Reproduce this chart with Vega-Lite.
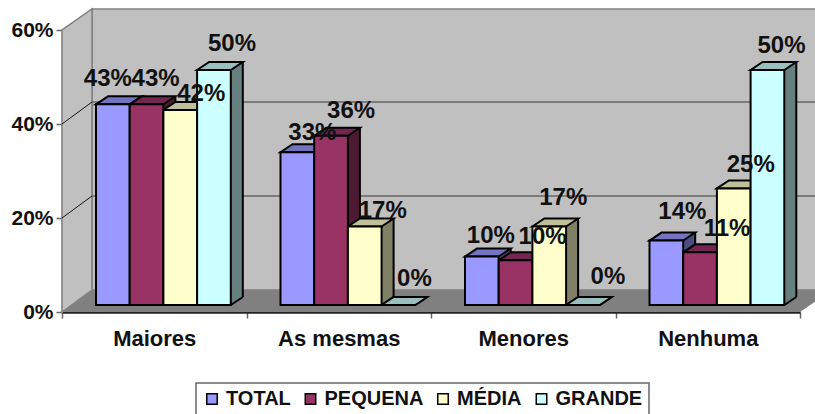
{"$schema":"https://vega.github.io/schema/vega-lite/v6.json","width":753,"height":303,"padding":{"left":62,"top":9,"right":0,"bottom":102},"autosize":"none","background":"white","config":{"view":{"stroke":null},"font":"Liberation Sans","legend":{"strokeWidth":1.5}},"data":{"values":[{"cat":"Maiores","s":"TOTAL","v":42.7,"label":"43%"},{"cat":"Maiores","s":"PEQUENA","v":42.7,"label":"43%"},{"cat":"Maiores","s":"MÉDIA","v":41.5,"label":"42%"},{"cat":"Maiores","s":"GRANDE","v":50,"label":"50%"},{"cat":"As mesmas","s":"TOTAL","v":32.5,"label":"33%"},{"cat":"As mesmas","s":"PEQUENA","v":36,"label":"36%"},{"cat":"As mesmas","s":"MÉDIA","v":16.7,"label":"17%"},{"cat":"As mesmas","s":"GRANDE","v":0,"label":"0%"},{"cat":"Menores","s":"TOTAL","v":10.3,"label":"10%"},{"cat":"Menores","s":"PEQUENA","v":9.5,"label":"10%"},{"cat":"Menores","s":"MÉDIA","v":16.7,"label":"17%"},{"cat":"Menores","s":"GRANDE","v":0,"label":"0%"},{"cat":"Nenhuma","s":"TOTAL","v":13.7,"label":"14%"},{"cat":"Nenhuma","s":"PEQUENA","v":11.2,"label":"11%"},{"cat":"Nenhuma","s":"MÉDIA","v":24.8,"label":"25%"},{"cat":"Nenhuma","s":"GRANDE","v":50,"label":"50%"}]},"encoding":{"x":{"field":"cat","type":"nominal","sort":null,"title":null,"scale":{"domain":["Maiores","As mesmas","Menores","Nenhuma"],"range":[0,738],"paddingInner":0,"paddingOuter":0}},"xOffset":{"field":"s","type":"nominal","sort":null,"scale":{"type":"point","domain":["TOTAL","PEQUENA","MÉDIA","GRANDE"],"range":[50.85,151.95],"padding":0}},"y":{"field":"v","type":"quantitative","title":null,"scale":{"domain":[0,60],"range":[303,21],"nice":false,"zero":true}}},"layer":[{"data":{"values":[{"v":0}]},"mark":{"type":"point","shape":"M30,-22L30,-303L770,-303L770,-22Z","size":4,"filled":true,"fill":"#C0C0C0","stroke":"#808080","strokeWidth":1.5,"opacity":1},"encoding":{"x":{"datum":"Maiores","bandPosition":0},"xOffset":{"value":0}}},{"data":{"values":[{"v":0}]},"mark":{"type":"point","shape":"M0,0L0,-282L30,-303L30,-22Z","size":4,"filled":true,"fill":"#C0C0C0","stroke":"#808080","strokeWidth":1.5,"opacity":1},"encoding":{"x":{"datum":"Maiores","bandPosition":0},"xOffset":{"value":0}}},{"data":{"values":[{"v":20},{"v":40}]},"mark":{"type":"point","shape":"M30,-22L770,-22","size":4,"filled":false,"stroke":"#666666","strokeWidth":1.5,"opacity":1},"encoding":{"x":{"datum":"Maiores","bandPosition":0},"xOffset":{"value":0}}},{"data":{"values":[{"v":20},{"v":40}]},"mark":{"type":"point","shape":"M0,0L30,-22","size":4,"filled":false,"stroke":"#111111","strokeWidth":1,"opacity":1},"encoding":{"x":{"datum":"Maiores","bandPosition":0},"xOffset":{"value":0}}},{"data":{"values":[{"v":0}]},"mark":{"type":"point","shape":"M0,0L30,-22L770,-22L738,0Z","size":4,"filled":true,"fill":"#808080","stroke":null,"opacity":1},"encoding":{"x":{"datum":"Maiores","bandPosition":0},"xOffset":{"value":0},"y":{"field":"v","type":"quantitative","axis":{"values":[0,20,40,60],"labelExpr":"datum.value+'%'","labelFont":"Liberation Sans","labelFontWeight":"bold","labelFontSize":21,"labelColor":"#111111","labelPadding":3,"tickColor":"#666666","tickSize":6,"tickWidth":1.5,"domainColor":"#808080","domainWidth":1.5,"grid":false,"title":null}}}},{"mark":{"type":"bar","width":12,"yOffset":-15,"y2Offset":-15,"stroke":null},"encoding":{"xOffset":{"field":"s","type":"nominal","sort":null,"scale":{"type":"band","domain":["TOTAL","PEQUENA","MÉDIA","GRANDE"],"range":[56.85,191.65],"paddingInner":0,"paddingOuter":0}},"y2":{"datum":0},"color":{"field":"s","type":"nominal","sort":null,"legend":null,"scale":{"domain":["TOTAL","PEQUENA","MÉDIA","GRANDE"],"range":["#4D4D80","#4D1933","#808066","#668080"]}}}},{"mark":{"type":"point","shape":"M16.85,0L28.85,-8L16.85,-8Z","size":4,"filled":true,"stroke":null,"opacity":1,"yOffset":-7},"encoding":{"y":{"datum":0},"color":{"field":"s","type":"nominal","sort":null,"legend":null,"scale":{"domain":["TOTAL","PEQUENA","MÉDIA","GRANDE"],"range":["#4D4D80","#4D1933","#808066","#668080"]}}}},{"mark":{"type":"bar","width":2,"yOffset":-15,"y2Offset":-15,"fill":"black","stroke":null},"encoding":{"xOffset":{"field":"s","type":"nominal","sort":null,"scale":{"type":"band","domain":["TOTAL","PEQUENA","MÉDIA","GRANDE"],"range":[62.85,197.65],"paddingInner":0,"paddingOuter":0}},"y2":{"datum":0}}},{"mark":{"type":"point","shape":"M16.85,0L28.85,-8","size":4,"filled":false,"stroke":"black","strokeWidth":2,"opacity":1,"yOffset":-7},"encoding":{"y":{"datum":0}}},{"mark":{"type":"point","shape":"M-16.85,0L-4.85,-8L28.85,-8L16.85,0Z","size":4,"filled":true,"stroke":"black","strokeWidth":2,"opacity":1,"yOffset":-7},"encoding":{"color":{"field":"s","type":"nominal","sort":null,"legend":null,"scale":{"domain":["TOTAL","PEQUENA","MÉDIA","GRANDE"],"range":["#7373BF","#732650","#BFBF99","#99BFBF"]}}}},{"mark":{"type":"bar","yOffset":-7,"y2Offset":-7,"stroke":"black","strokeWidth":2},"encoding":{"xOffset":{"field":"s","type":"nominal","sort":null,"scale":{"type":"band","domain":["TOTAL","PEQUENA","MÉDIA","GRANDE"],"range":[34,168.8],"paddingInner":0,"paddingOuter":0}},"y2":{"datum":0},"x":{"field":"cat","type":"nominal","sort":null,"title":null,"axis":{"tickBand":"extent","labelAngle":0,"labelAlign":"center","labelBaseline":"top","labelFont":"Liberation Sans","labelFontWeight":"bold","labelFontSize":22,"labelColor":"#111111","labelPadding":10,"tickColor":"#666666","tickSize":6,"tickWidth":1.5,"domainColor":"#222222","domainWidth":2.5,"title":null}},"color":{"field":"s","type":"nominal","sort":null,"scale":{"domain":["TOTAL","PEQUENA","MÉDIA","GRANDE"],"range":["#9999FF","#993366","#FFFFCC","#CCFFFF"]},"legend":{"title":null,"orient":"none","legendX":134,"legendY":374,"direction":"horizontal","columns":4,"gridAlign":"none","fillColor":"white","strokeColor":"#666666","padding":6,"symbolType":"square","symbolSize":110,"symbolStrokeColor":"black","symbolStrokeWidth":1.5,"symbolOpacity":1,"labelFont":"Liberation Sans","labelFontWeight":"bold","labelFontSize":20,"labelColor":"#111111","labelOffset":4,"columnPadding":9.5}}}},{"transform":[{"filter":"datum.cat=='Maiores'&&datum.s=='TOTAL'"}],"mark":{"type":"text","font":"Liberation Sans","fontSize":24,"fontWeight":"bold","color":"#111111","yOffset":-7,"dx":-5,"dy":-25},"encoding":{"text":{"field":"label"}}},{"transform":[{"filter":"datum.cat=='Maiores'&&datum.s=='PEQUENA'"}],"mark":{"type":"text","font":"Liberation Sans","fontSize":24,"fontWeight":"bold","color":"#111111","yOffset":-7,"dx":9,"dy":-25},"encoding":{"text":{"field":"label"}}},{"transform":[{"filter":"datum.cat=='Maiores'&&datum.s=='MÉDIA'"}],"mark":{"type":"text","font":"Liberation Sans","fontSize":24,"fontWeight":"bold","color":"#111111","yOffset":-7,"dx":21,"dy":-16},"encoding":{"text":{"field":"label"}}},{"transform":[{"filter":"datum.cat=='Maiores'&&datum.s=='GRANDE'"}],"mark":{"type":"text","font":"Liberation Sans","fontSize":24,"fontWeight":"bold","color":"#111111","yOffset":-7,"dx":18,"dy":-26},"encoding":{"text":{"field":"label"}}},{"transform":[{"filter":"datum.cat=='As mesmas'&&datum.s=='TOTAL'"}],"mark":{"type":"text","font":"Liberation Sans","fontSize":24,"fontWeight":"bold","color":"#111111","yOffset":-7,"dx":15,"dy":-19},"encoding":{"text":{"field":"label"}}},{"transform":[{"filter":"datum.cat=='As mesmas'&&datum.s=='PEQUENA'"}],"mark":{"type":"text","font":"Liberation Sans","fontSize":24,"fontWeight":"bold","color":"#111111","yOffset":-7,"dx":20,"dy":-25},"encoding":{"text":{"field":"label"}}},{"transform":[{"filter":"datum.cat=='As mesmas'&&datum.s=='MÉDIA'"}],"mark":{"type":"text","font":"Liberation Sans","fontSize":24,"fontWeight":"bold","color":"#111111","yOffset":-7,"dx":18,"dy":-16},"encoding":{"text":{"field":"label"}}},{"transform":[{"filter":"datum.cat=='As mesmas'&&datum.s=='GRANDE'"}],"mark":{"type":"text","font":"Liberation Sans","fontSize":24,"fontWeight":"bold","color":"#111111","yOffset":-7,"dx":16,"dy":-26},"encoding":{"text":{"field":"label"}}},{"transform":[{"filter":"datum.cat=='Menores'&&datum.s=='TOTAL'"}],"mark":{"type":"text","font":"Liberation Sans","fontSize":24,"fontWeight":"bold","color":"#111111","yOffset":-7,"dx":9,"dy":-21},"encoding":{"text":{"field":"label"}}},{"transform":[{"filter":"datum.cat=='Menores'&&datum.s=='PEQUENA'"}],"mark":{"type":"text","font":"Liberation Sans","fontSize":24,"fontWeight":"bold","color":"#111111","yOffset":-7,"dx":27,"dy":-23},"encoding":{"text":{"field":"label"}}},{"transform":[{"filter":"datum.cat=='Menores'&&datum.s=='MÉDIA'"}],"mark":{"type":"text","font":"Liberation Sans","fontSize":24,"fontWeight":"bold","color":"#111111","yOffset":-7,"dx":14,"dy":-29},"encoding":{"text":{"field":"label"}}},{"transform":[{"filter":"datum.cat=='Menores'&&datum.s=='GRANDE'"}],"mark":{"type":"text","font":"Liberation Sans","fontSize":24,"fontWeight":"bold","color":"#111111","yOffset":-7,"dx":25,"dy":-28},"encoding":{"text":{"field":"label"}}},{"transform":[{"filter":"datum.cat=='Nenhuma'&&datum.s=='TOTAL'"}],"mark":{"type":"text","font":"Liberation Sans","fontSize":24,"fontWeight":"bold","color":"#111111","yOffset":-7,"dx":16,"dy":-29},"encoding":{"text":{"field":"label"}}},{"transform":[{"filter":"datum.cat=='Nenhuma'&&datum.s=='PEQUENA'"}],"mark":{"type":"text","font":"Liberation Sans","fontSize":24,"fontWeight":"bold","color":"#111111","yOffset":-7,"dx":27,"dy":-23},"encoding":{"text":{"field":"label"}}},{"transform":[{"filter":"datum.cat=='Nenhuma'&&datum.s=='MÉDIA'"}],"mark":{"type":"text","font":"Liberation Sans","fontSize":24,"fontWeight":"bold","color":"#111111","yOffset":-7,"dx":17,"dy":-23},"encoding":{"text":{"field":"label"}}},{"transform":[{"filter":"datum.cat=='Nenhuma'&&datum.s=='GRANDE'"}],"mark":{"type":"text","font":"Liberation Sans","fontSize":24,"fontWeight":"bold","color":"#111111","yOffset":-7,"dx":14,"dy":-24},"encoding":{"text":{"field":"label"}}}],"resolve":{"scale":{"color":"independent","xOffset":"independent"}}}
